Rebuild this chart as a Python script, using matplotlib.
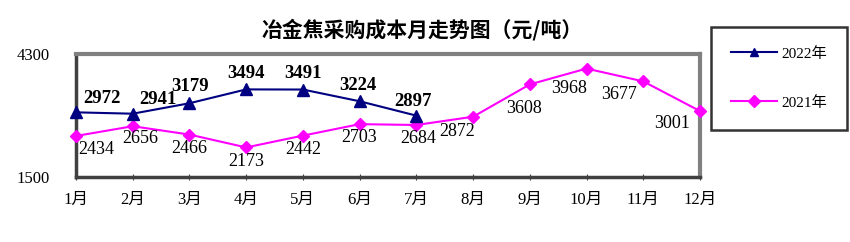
import matplotlib
matplotlib.use("Agg")
import matplotlib.pyplot as plt

plt.rcParams['font.family'] = ['Liberation Serif', 'Noto Sans CJK SC']

# data
months = ['1月', '2月', '3月', '4月', '5月', '6月', '7月', '8月', '9月', '10月', '11月', '12月']
cost_2022 = [2972, 2941, 3179, 3494, 3491, 3224, 2897]
cost_2021 = [2434, 2656, 2466, 2173, 2442, 2703, 2684, 2872, 3608, 3968, 3677, 3001]
y_ticks = [1500, 4300]

# label offsets in pixels (dx, dy)
off_2022 = [(26, 14), (25, 14), (1, 17), (0, 16), (0, 16), (-2, 16), (-3, 14)]
off_2021 = [(20, -14), (8, -12), (0, -14), (0, -14), (0, -14), (-1, -13), (2, -14),
            (-16, -15), (-6, -24), (-17, -20), (-24, -13), (-28, -12)]

fig = plt.figure(figsize=(8.5, 2.42), dpi=100)
ax = fig.add_axes([76/850, 1-177/242, 624/850, 123/242])

x = list(range(1, 13))
l22, = ax.plot(x[:len(cost_2022)], cost_2022, color='#000080', lw=1.5,
               marker='^', ms=8, label='2022年', clip_on=False, zorder=4)
l21, = ax.plot(x, cost_2021, color='#FF00FF', lw=1.5,
               marker='D', ms=6, label='2021年', clip_on=False, zorder=3)

for xi, v, (dx, dy) in zip(x, cost_2022, off_2022):
    ax.annotate(str(v), (xi, v), xytext=(dx, dy), textcoords='offset pixels',
                ha='center', va='center', fontsize=13.5, fontweight='bold')
for xi, v, (dx, dy) in zip(x, cost_2021, off_2021):
    ax.annotate(str(v), (xi, v), xytext=(dx, dy), textcoords='offset pixels',
                ha='center', va='center', fontsize=13)

ax.set_xlim(1, 12)
ax.set_ylim(1500, 4300)
ax.set_yticks(y_ticks)
ax.set_yticklabels([str(t) for t in y_ticks], fontsize=12)
ax.tick_params(axis='y', length=0, pad=19)
ax.set_xticks(x)
ax.set_xticklabels(months, fontsize=12)
ax.tick_params(axis='x', length=4, direction='inout', pad=9, color='#404040')

for s in ['top', 'right']:
    ax.spines[s].set_color('#808080')
    ax.spines[s].set_linewidth(3)
for s in ['left', 'bottom']:
    ax.spines[s].set_color('#404040')
    ax.spines[s].set_linewidth(2.5)

fig.text(0.497, 1-30/242, '冶金焦采购成本月走势图（元/吨）', ha='center', va='center',
         fontsize=15, fontweight='bold', family=['Noto Sans CJK SC'])

leg = fig.legend(handles=[l22, l21], loc='upper left',
                 bbox_to_anchor=(711/850, 1-27/242), frameon=True, fancybox=False,
                 edgecolor='black', fontsize=11, handlelength=3.0, handletextpad=0.3,
                 labelspacing=2.3, borderpad=1.3, borderaxespad=0)
leg.get_frame().set_linewidth(1.8)
for h in leg.legend_handles:
    h.set_markersize(6)

fig.savefig('out.png', dpi=100)
